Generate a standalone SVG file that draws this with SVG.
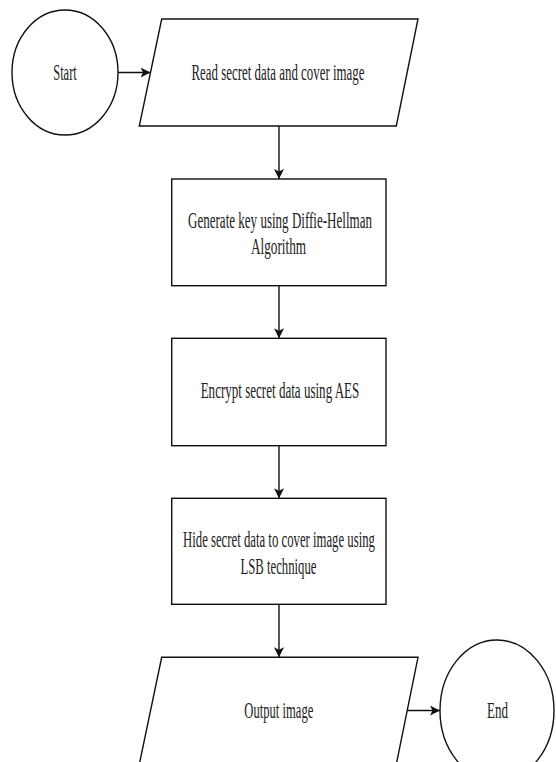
<svg xmlns="http://www.w3.org/2000/svg" width="556" height="762" viewBox="0 0 556 762">
<style>
.shape{fill:#fff;stroke:#111;stroke-width:1.4}
.lbl{font-family:"Liberation Serif","Times New Roman",serif;font-size:23px;fill:#222;text-anchor:middle}
.conn{fill:none;stroke:#111;stroke-width:1.4}
</style>
<defs>
<marker id="arr" markerUnits="userSpaceOnUse" markerWidth="10" markerHeight="10" viewBox="0 0 10 10" refX="10" refY="5" orient="auto">
<path d="M0,0 L10,5 L0,10 L2.5,5 z" fill="#111"/>
</marker>
</defs>
<rect width="556" height="762" fill="#fff"/>
<g id="connectors">
<line class="conn" x1="118" y1="72.5" x2="150.5" y2="72.5" marker-end="url(#arr)"/>
<line class="conn" x1="279" y1="126" x2="279" y2="179" marker-end="url(#arr)"/>
<line class="conn" x1="279" y1="285.7" x2="279" y2="338.3" marker-end="url(#arr)"/>
<line class="conn" x1="279" y1="445.7" x2="279" y2="498.3" marker-end="url(#arr)"/>
<line class="conn" x1="279" y1="604.3" x2="279" y2="657.3" marker-end="url(#arr)"/>
<line class="conn" x1="407" y1="710.5" x2="440" y2="710.5" marker-end="url(#arr)"/>
</g>
<g id="start">
<ellipse class="shape" cx="65" cy="72.5" rx="53" ry="62.5"/>
<text class="lbl" x="65" y="80" textLength="23.5" lengthAdjust="spacingAndGlyphs">Start</text>
</g>
<g id="read">
<polygon class="shape" points="161.7,19 418,19 396.3,126 139.3,126"/>
<text class="lbl" x="278" y="80" textLength="173" lengthAdjust="spacingAndGlyphs">Read secret data and cover image</text>
</g>
<g id="genkey">
<rect class="shape" x="171.7" y="179" width="214.3" height="106.7"/>
<text class="lbl" x="280" y="227.5" textLength="184" lengthAdjust="spacingAndGlyphs">Generate key using Diffie-Hellman</text>
<text class="lbl" x="278.5" y="254" textLength="55" lengthAdjust="spacingAndGlyphs">Algorithm</text>
</g>
<g id="encrypt">
<rect class="shape" x="171.7" y="338.3" width="214.3" height="107.4"/>
<text class="lbl" x="280" y="397.5" textLength="158.7" lengthAdjust="spacingAndGlyphs">Encrypt secret data using AES</text>
</g>
<g id="hide">
<rect class="shape" x="171.7" y="498.3" width="214.3" height="106"/>
<text class="lbl" x="279" y="547" textLength="192" lengthAdjust="spacingAndGlyphs">Hide secret data to cover image using</text>
<text class="lbl" x="278.5" y="573.5" textLength="76" lengthAdjust="spacingAndGlyphs">LSB technique</text>
</g>
<g id="output">
<polygon class="shape" points="161.7,657.3 418,657.3 396.3,764.3 139.3,764.3"/>
<text class="lbl" x="278.8" y="718" textLength="69" lengthAdjust="spacingAndGlyphs">Output image</text>
</g>
<g id="end">
<ellipse class="shape" cx="497" cy="710.5" rx="57" ry="70.5"/>
<text class="lbl" x="497.5" y="718" textLength="21" lengthAdjust="spacingAndGlyphs">End</text>
</g>
</svg>
